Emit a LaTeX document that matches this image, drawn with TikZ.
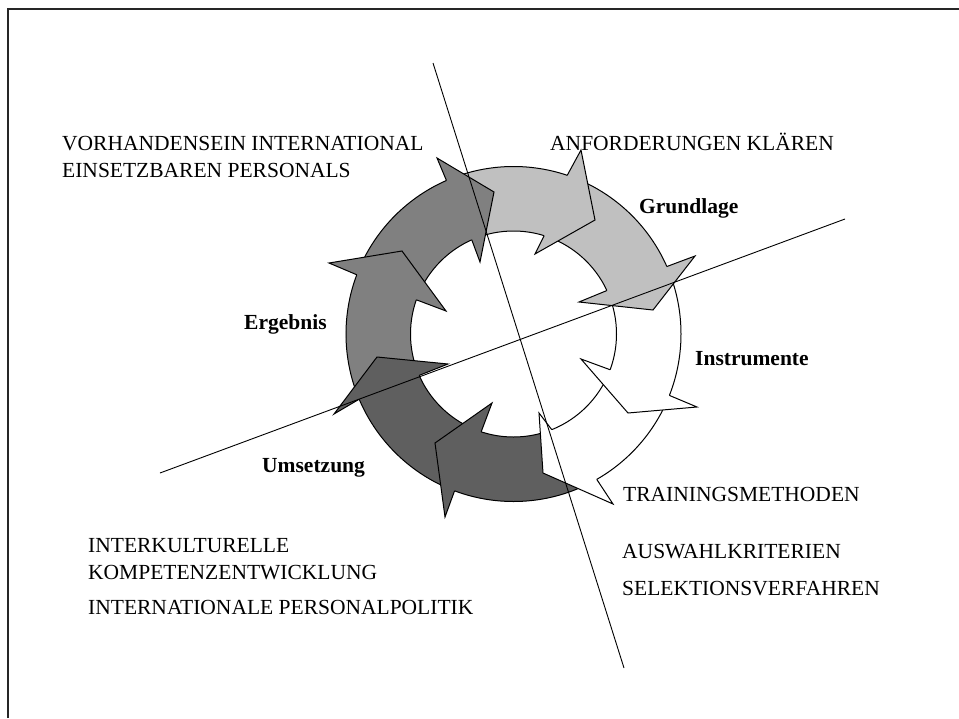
\documentclass[tikz,border=0pt]{standalone}
\usepackage{fontspec}
\setmainfont{Liberation Serif}
\usetikzlibrary{calc}
\definecolor{lightg}{HTML}{C0C0C0}
\definecolor{medg}{HTML}{808080}
\definecolor{darkg}{HTML}{5F5F5F}
\newcommand\ringbody[5]{%
  \fill[#1] ($(c)+(#2:167.5)$) arc[start angle=#2,end angle=#3,radius=167.5]
    -- ($(c)+(#4:103)$) arc[start angle=#4,end angle=#5,radius=103] -- cycle;}
\newcommand\arrowhead[6]{%
  \fill[#1] ($(c)+(#2:167.5)$) -- #3 -- #4 -- #5 -- ($(c)+(#6:103)$) -- cycle;
  \draw[outl] ($(c)+(#2:167.5)$) -- #3 -- #4 -- #5 -- ($(c)+(#6:103)$);}
\begin{document}
\begin{tikzpicture}[x=1pt,y=1pt,
  outl/.style={line width=1pt, black},
  thinline/.style={line width=0.9pt, black},
  lbl/.style={anchor=base west, inner sep=0pt, font=\fontsize{21.5}{26}\selectfont},
  blbl/.style={anchor=base west, inner sep=0pt, font=\fontsize{21.5}{26}\selectfont\bfseries}]
\useasboundingbox (0,0) rectangle (959,-718);
% frame
\coordinate (fa) at (8,-718);
\coordinate (fb) at (8,-9);
\coordinate (fc) at (959,-9);
\draw[line width=1.4pt, black!85] (fa) -- (fb) -- (fc);
% ring
\coordinate (c) at (513.5,-334);
\ringbody{lightg}{110}{21}{21}{110}
\ringbody{white}{21}{-63}{-71}{21}
\ringbody{darkg}{-63}{-160}{-160}{-71}
\ringbody{medg}{-160}{-250}{-250}{-160}
\draw[outl] (c) circle[radius=167.5];
\draw[outl] (c) circle[radius=103];
% arrow heads
\arrowhead{lightg}{71.3}{(581,-150)}{(595,-220)}{(535,-254)}{72.7}
\arrowhead{lightg}{23.75}{(695,-256)}{(653,-310)}{(579,-302)}{24.96}
\arrowhead{white}{-21.5}{(697,-407)}{(628,-413)}{(581,-359)}{-20.3}
\arrowhead{white}{-60.2}{(613,-504)}{(543,-473)}{(539,-413)}{-68.2}
\arrowhead{darkg}{-110.6}{(445,-517)}{(435,-443)}{(492,-403)}{-108.3}
\arrowhead{darkg}{-157.1}{(334,-414)}{(377,-357)}{(448,-364)}{-156.3}
\arrowhead{medg}{159.3}{(329,-263)}{(402,-251)}{(446,-311)}{160.6}
\arrowhead{medg}{113.6}{(437,-158)}{(494,-192)}{(480,-262)}{113.9}
% axes
\coordinate (l1a) at (433,-63);
\coordinate (l1b) at (624,-668);
\coordinate (l2a) at (160,-473);
\coordinate (l2b) at (845,-219);
\draw[thinline] (l1a) -- (l1b);
\draw[thinline] (l2a) -- (l2b);
% labels
\node[lbl] (t1) at (62,-150) {VORHANDENSEIN INTERNATIONAL};
\node[lbl] (t2) at (62,-177) {EINSETZBAREN PERSONALS};
\node[lbl] (t3) at (550,-150) {ANFORDERUNGEN KLÄREN};
\node[blbl] (g1) at (639,-213) {Grundlage};
\node[blbl] (g2) at (244,-329) {Ergebnis};
\node[blbl] (g3) at (695,-365) {Instrumente};
\node[blbl] (g4) at (262,-472) {Umsetzung};
\node[lbl] (t4) at (623,-501) {TRAININGSMETHODEN};
\node[lbl] (t5) at (622,-558) {AUSWAHLKRITERIEN};
\node[lbl] (t6) at (622,-595) {SELEKTIONSVERFAHREN};
\node[lbl] (t7) at (88,-552) {INTERKULTURELLE};
\node[lbl] (t8) at (88,-579) {KOMPETENZENTWICKLUNG};
\node[lbl] (t9) at (88,-614) {INTERNATIONALE PERSONALPOLITIK};
\end{tikzpicture}
\end{document}
